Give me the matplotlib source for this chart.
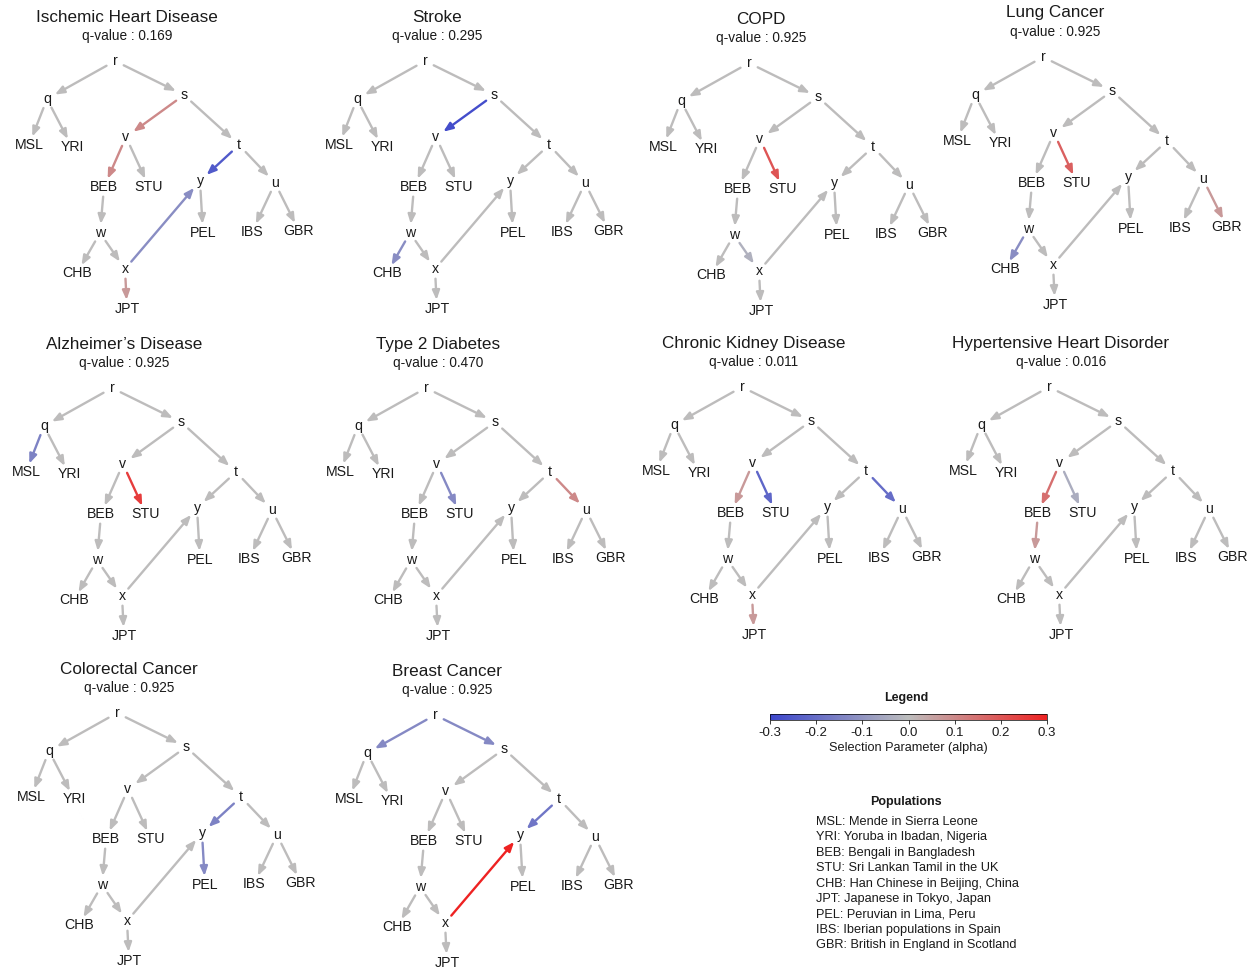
import matplotlib as mpl
import matplotlib.pyplot as plt
from matplotlib.colors import LinearSegmentedColormap, Normalize

plt.rcParams["font.family"] = ["Liberation Sans", "DejaVu Sans"]
plt.rcParams["axes.unicode_minus"] = False

# disease panels and their q-values
diseases = ["Ischemic Heart Disease", "Stroke", "COPD", "Lung Cancer",
            "Alzheimer\u2019s Disease", "Type 2 Diabetes", "Chronic Kidney Disease",
            "Hypertensive Heart Disorder", "Colorectal Cancer", "Breast Cancer"]
q_values = [0.169, 0.295, 0.925, 0.925, 0.925, 0.470, 0.011, 0.016, 0.925, 0.925]

# admixture graph edges (parent -> child)
edges = [("r", "q"), ("r", "s"), ("q", "MSL"), ("q", "YRI"), ("s", "v"), ("s", "t"),
         ("v", "BEB"), ("v", "STU"), ("t", "y"), ("t", "u"), ("BEB", "w"),
         ("w", "CHB"), ("w", "x"), ("x", "JPT"), ("x", "y"), ("y", "PEL"),
         ("u", "IBS"), ("u", "GBR")]

# selection parameter (alpha) per edge, only non-zero edges listed
alpha_ihd = {("s", "v"): 0.10, ("v", "BEB"): 0.10, ("t", "y"): -0.25,
             ("x", "y"): -0.12, ("x", "JPT"): 0.07}
alpha_stroke = {("s", "v"): -0.28, ("w", "CHB"): -0.12}
alpha_copd = {("v", "STU"): 0.20, ("w", "x"): -0.03}
alpha_lung = {("v", "STU"): 0.18, ("w", "CHB"): -0.12, ("u", "GBR"): 0.07}
alpha_alz = {("q", "MSL"): -0.15, ("v", "STU"): 0.25}
alpha_t2d = {("v", "STU"): -0.13, ("t", "u"): 0.10}
alpha_ckd = {("v", "BEB"): 0.07, ("v", "STU"): -0.22, ("t", "u"): -0.20, ("x", "JPT"): 0.07}
alpha_hhd = {("v", "BEB"): 0.15, ("v", "STU"): -0.04, ("BEB", "w"): 0.07}
alpha_crc = {("t", "y"): -0.15, ("y", "PEL"): -0.13}
alpha_brca = {("r", "q"): -0.13, ("r", "s"): -0.13, ("t", "y"): -0.18, ("x", "y"): 0.30}
alphas = [alpha_ihd, alpha_stroke, alpha_copd, alpha_lung, alpha_alz,
          alpha_t2d, alpha_ckd, alpha_hhd, alpha_crc, alpha_brca]

cbar_ticks = [-0.3, -0.2, -0.1, 0.0, 0.1, 0.2, 0.3]

populations = ["MSL: Mende in Sierra Leone", "YRI: Yoruba in Ibadan, Nigeria",
               "BEB: Bengali in Bangladesh", "STU: Sri Lankan Tamil in the UK",
               "CHB: Han Chinese in Beijing, China", "JPT: Japanese in Tokyo, Japan",
               "PEL: Peruvian in Lima, Peru", "IBS: Iberian populations in Spain",
               "GBR: British in England in Scotland"]

# node layout, pixel offsets from the root r (y down)
layout = {"r": (0, 0), "q": (-68, 38), "s": (69, 34), "MSL": (-86, 84), "YRI": (-43, 86),
          "v": (11, 76), "t": (124, 84), "BEB": (-11, 126), "STU": (34, 126),
          "y": (85, 120), "u": (160, 122), "w": (-15, 172), "PEL": (88, 172),
          "IBS": (137, 171), "GBR": (184, 170), "CHB": (-38, 212), "x": (10, 208),
          "JPT": (12, 248)}
roots = [(115, 61), (425, 61), (749, 63), (1043, 57), (112, 388),
         (426, 388), (742, 387), (1049, 387), (117, 713), (435, 715)]

W, H = 1250, 972
fig = plt.figure(figsize=(W / 100, H / 100), dpi=100)
ax = fig.add_axes([0, 0, 1, 1])
ax.set_xlim(0, W)
ax.set_ylim(H, 0)
ax.axis("off")

cmap = LinearSegmentedColormap.from_list("sel", ["#3c46cc", "#bdbdbd", "#ee2222"])
norm = Normalize(-0.3, 0.3)
txt = "#1a1a1a"

for name, qv, al, (rx, ry) in zip(diseases, q_values, alphas, roots):
    ax.text(rx + 12, ry - 44, name, ha="center", va="center", fontsize=12.3, color=txt)
    ax.text(rx + 12, ry - 25, "q-value : {:.3f}".format(qv), ha="center", va="center",
            fontsize=9.8, color=txt)
    pos = {k: (rx + dx, ry + dy) for k, (dx, dy) in layout.items()}
    # grey edges first, coloured ones on top
    order = sorted(edges, key=lambda e: abs(al.get(e, 0.0)))
    for a, b in order:
        val = al.get((a, b), 0.0)
        ax.annotate("", xy=pos[b], xytext=pos[a],
                    arrowprops=dict(arrowstyle="-|>,head_length=0.5,head_width=0.2",
                                    color=cmap(norm(val)), lw=1.7, shrinkA=7, shrinkB=6.5,
                                    mutation_scale=11))
    for k, (x, y) in pos.items():
        ax.text(x, y, k, ha="center", va="center", fontsize=10.2, color=txt)

# colour legend
ax.text(906, 698, "Legend", ha="center", va="center", fontsize=9, fontweight="bold", color=txt)
cax = fig.add_axes([770 / W, 1 - 720 / H, 277 / W, 6 / H])
cb = mpl.colorbar.ColorbarBase(cax, cmap=cmap, norm=norm, orientation="horizontal",
                               ticks=cbar_ticks)
cb.ax.set_xticklabels(["{:.1f}".format(t) for t in cbar_ticks])
cb.ax.tick_params(labelsize=9.5, length=3, width=0.6, pad=2, colors=txt)
cb.outline.set_linewidth(0.5)
cb.set_label("Selection Parameter (alpha)", fontsize=9.2, labelpad=2, color=txt)

# population legend
ax.text(906, 802, "Populations", ha="center", va="center", fontsize=9, fontweight="bold", color=txt)
for i, p in enumerate(populations):
    ax.text(816, 822 + 15.4 * i, p, ha="left", va="center", fontsize=9.2, color=txt)

fig.savefig("out.png", dpi=100)
